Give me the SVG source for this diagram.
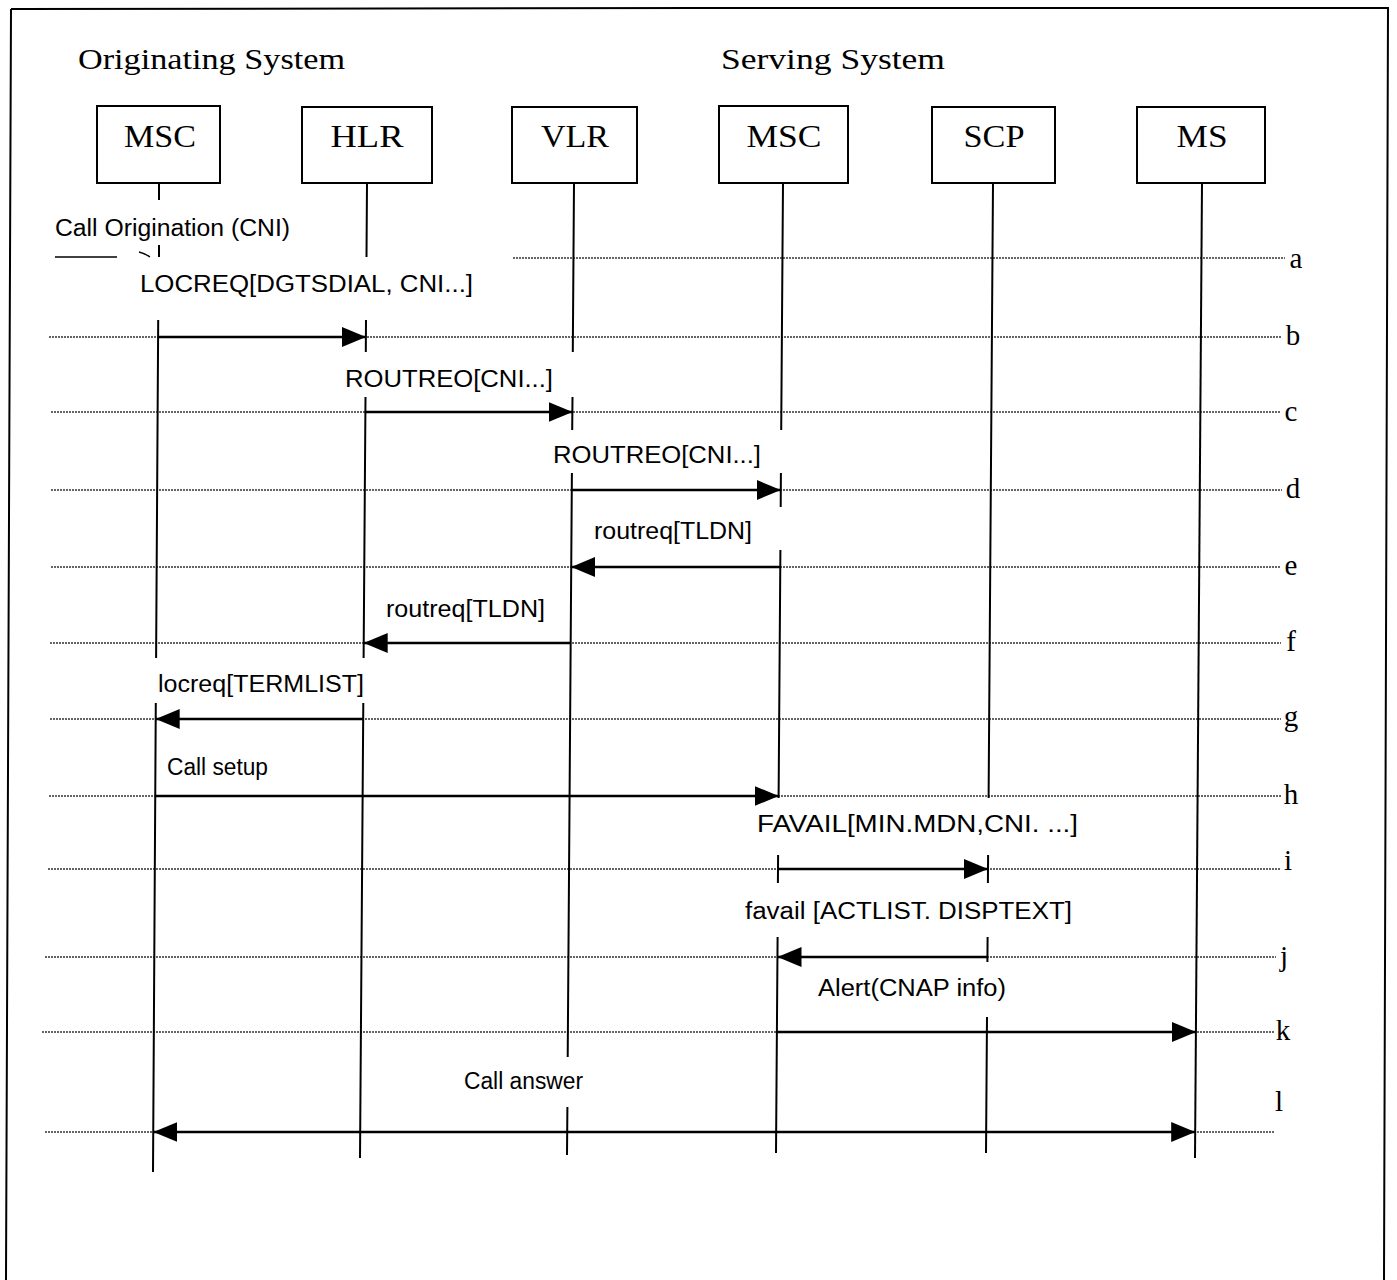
<svg xmlns="http://www.w3.org/2000/svg" width="1397" height="1280" viewBox="0 0 1397 1280">
<style>
.box{fill:#fff;stroke:#000;stroke-width:2}
.life{stroke:#000;stroke-width:2;fill:none}
.dot{stroke:#333;stroke-width:1.4;stroke-dasharray:2 1;fill:none}
.msg{stroke:#000;stroke-width:2.6;fill:none}
.serif{font-family:"Liberation Serif","Times New Roman",serif;fill:#000}
.sans{font-family:"Liberation Sans",Arial,sans-serif;fill:#000;font-size:23px}
.title{font-size:30px}
.node{font-size:32px;text-anchor:middle}
.row{font-size:29px;text-anchor:middle}
</style>
<defs>
<marker id="ah" markerUnits="userSpaceOnUse" markerWidth="26" markerHeight="22" refX="24" refY="10" orient="auto-start-reverse">
<path d="M0,0 L24,10 L0,20 z" fill="#000"/>
</marker>
</defs>
<rect width="1397" height="1280" fill="#fff"/>
<path d="M11,9 L700,8 L1388,8 L1384,1280 M11,9 L6,1280" stroke="#000" stroke-width="2" fill="none"/>
<text class="serif title" x="78" y="69" textLength="267" lengthAdjust="spacingAndGlyphs">Originating System</text>
<text class="serif title" x="721" y="69" textLength="224" lengthAdjust="spacingAndGlyphs">Serving System</text>

<g id="rows">
<line class="dot" x1="513" y1="258" x2="1285" y2="258"/>
<line x1="55" y1="257" x2="117" y2="257" stroke="#000" stroke-width="1.5"/>
<line class="dot" x1="49" y1="337" x2="1282" y2="337"/>
<line class="dot" x1="51" y1="412" x2="1281" y2="412"/>
<line class="dot" x1="51" y1="490" x2="1282" y2="490"/>
<line class="dot" x1="51" y1="567" x2="1281" y2="567"/>
<line class="dot" x1="50" y1="643" x2="1281" y2="643"/>
<line class="dot" x1="50" y1="719" x2="1281" y2="719"/>
<line class="dot" x1="49" y1="796" x2="1281" y2="796"/>
<line class="dot" x1="48" y1="869" x2="1281" y2="869"/>
<line class="dot" x1="45" y1="957" x2="1276" y2="957"/>
<line class="dot" x1="42" y1="1032" x2="1274" y2="1032"/>
<line class="dot" x1="45" y1="1132" x2="1275" y2="1132"/>
<text class="serif row" x="1296" y="268">a</text>
<text class="serif row" x="1293" y="345">b</text>
<text class="serif row" x="1291" y="421">c</text>
<text class="serif row" x="1293" y="498">d</text>
<text class="serif row" x="1291" y="575">e</text>
<text class="serif row" x="1291" y="651">f</text>
<text class="serif row" x="1291" y="726">g</text>
<text class="serif row" x="1291" y="804">h</text>
<text class="serif row" x="1288" y="870">i</text>
<text class="serif row" x="1284" y="966">j</text>
<text class="serif row" x="1283" y="1040">k</text>
<text class="serif row" x="1279" y="1111">l</text>
</g>

<g id="node-msc-orig">
<rect class="box" x="97" y="106" width="123" height="77"/>
<text class="serif node" x="160" y="147" textLength="72" lengthAdjust="spacingAndGlyphs">MSC</text>
<path class="life" d="M159,183 L159,200 M159,245 L159,257 M158.2,320 L156.1,658 M155.8,703 L153,1172"/>
<path d="M139,252 Q144,253 150,257" stroke="#000" stroke-width="1.5" fill="none"/>
</g>
<g id="node-hlr">
<rect class="box" x="302" y="107" width="130" height="76"/>
<text class="serif node" x="367" y="147" textLength="73" lengthAdjust="spacingAndGlyphs">HLR</text>
<path class="life" d="M367,183 L366.5,257 M366,320 L365.8,352 M365.5,397 L363.6,658 M363.3,703 L360,1158"/>
</g>
<g id="node-vlr">
<rect class="box" x="512" y="107" width="125" height="76"/>
<text class="serif node" x="575" y="147" textLength="68" lengthAdjust="spacingAndGlyphs">VLR</text>
<path class="life" d="M574,183 L572.8,352 M572.5,397 L572.2,430 M571.9,473 L567.7,1057 M567.4,1107 L567,1155"/>
</g>
<g id="node-msc-serv">
<rect class="box" x="719" y="106" width="129" height="77"/>
<text class="serif node" x="784" y="147" textLength="75" lengthAdjust="spacingAndGlyphs">MSC</text>
<path class="life" d="M783,183 L781.2,430 M780.9,473 L780.7,507 M780.4,550 L778.6,798 M778.1,855 L777.9,883 M777.6,937 L776,1153"/>
</g>
<g id="node-scp">
<rect class="box" x="932" y="107" width="123" height="76"/>
<text class="serif node" x="994" y="147" textLength="61" lengthAdjust="spacingAndGlyphs">SCP</text>
<path class="life" d="M993,183 L988.6,798 M988.1,855 L987.9,883 M987.6,937 L987.4,962 M987,1017 L986,1153"/>
</g>
<g id="node-ms">
<rect class="box" x="1137" y="107" width="128" height="76"/>
<text class="serif node" x="1202" y="147" textLength="51" lengthAdjust="spacingAndGlyphs">MS</text>
<path class="life" d="M1202,183 L1195,1158"/>
</g>

<g id="connectors">
<line class="msg" x1="158" y1="337" x2="366" y2="337" marker-end="url(#ah)"/>
<line class="msg" x1="365.4" y1="412" x2="572.6" y2="412" marker-end="url(#ah)"/>
<line class="msg" x1="571.8" y1="490" x2="780.8" y2="490" marker-end="url(#ah)"/>
<line class="msg" x1="780.2" y1="567" x2="571.3" y2="567" marker-end="url(#ah)"/>
<line class="msg" x1="570.7" y1="643" x2="363.7" y2="643" marker-end="url(#ah)"/>
<line class="msg" x1="363.2" y1="719" x2="155.7" y2="719" marker-end="url(#ah)"/>
<line class="msg" x1="155.3" y1="796" x2="778.6" y2="796" stroke-width="2" marker-end="url(#ah)"/>
<line class="msg" x1="778" y1="869" x2="988" y2="869" marker-end="url(#ah)"/>
<line class="msg" x1="987.5" y1="957" x2="777.5" y2="957" marker-end="url(#ah)"/>
<line class="msg" x1="777" y1="1032" x2="1196" y2="1032" marker-end="url(#ah)"/>
<line class="msg" x1="153.4" y1="1132" x2="1195.2" y2="1132" marker-start="url(#ah)" marker-end="url(#ah)"/>
</g>

<g id="labels">
<text class="sans" x="55" y="236" textLength="235" lengthAdjust="spacingAndGlyphs">Call Origination (CNI)</text>
<text class="sans" x="140" y="292" textLength="333" lengthAdjust="spacingAndGlyphs">LOCREQ[DGTSDIAL, CNI...]</text>
<text class="sans" x="345" y="387" textLength="208" lengthAdjust="spacingAndGlyphs">ROUTREO[CNI...]</text>
<text class="sans" x="553" y="463" textLength="208" lengthAdjust="spacingAndGlyphs">ROUTREO[CNI...]</text>
<text class="sans" x="594" y="539" textLength="158" lengthAdjust="spacingAndGlyphs">routreq[TLDN]</text>
<text class="sans" x="386" y="617" textLength="159" lengthAdjust="spacingAndGlyphs">routreq[TLDN]</text>
<text class="sans" x="158" y="692" textLength="206" lengthAdjust="spacingAndGlyphs">locreq[TERMLIST]</text>
<text class="sans" x="167" y="775" textLength="101" lengthAdjust="spacingAndGlyphs">Call setup</text>
<text class="sans" x="757" y="832" textLength="321" lengthAdjust="spacingAndGlyphs">FAVAIL[MIN.MDN,CNI. ...]</text>
<text class="sans" x="745" y="919" textLength="327" lengthAdjust="spacingAndGlyphs">favail [ACTLIST. DISPTEXT]</text>
<text class="sans" x="818" y="996" textLength="188" lengthAdjust="spacingAndGlyphs">Alert(CNAP info)</text>
<text class="sans" x="464" y="1089" textLength="119" lengthAdjust="spacingAndGlyphs">Call answer</text>
</g>
</svg>
